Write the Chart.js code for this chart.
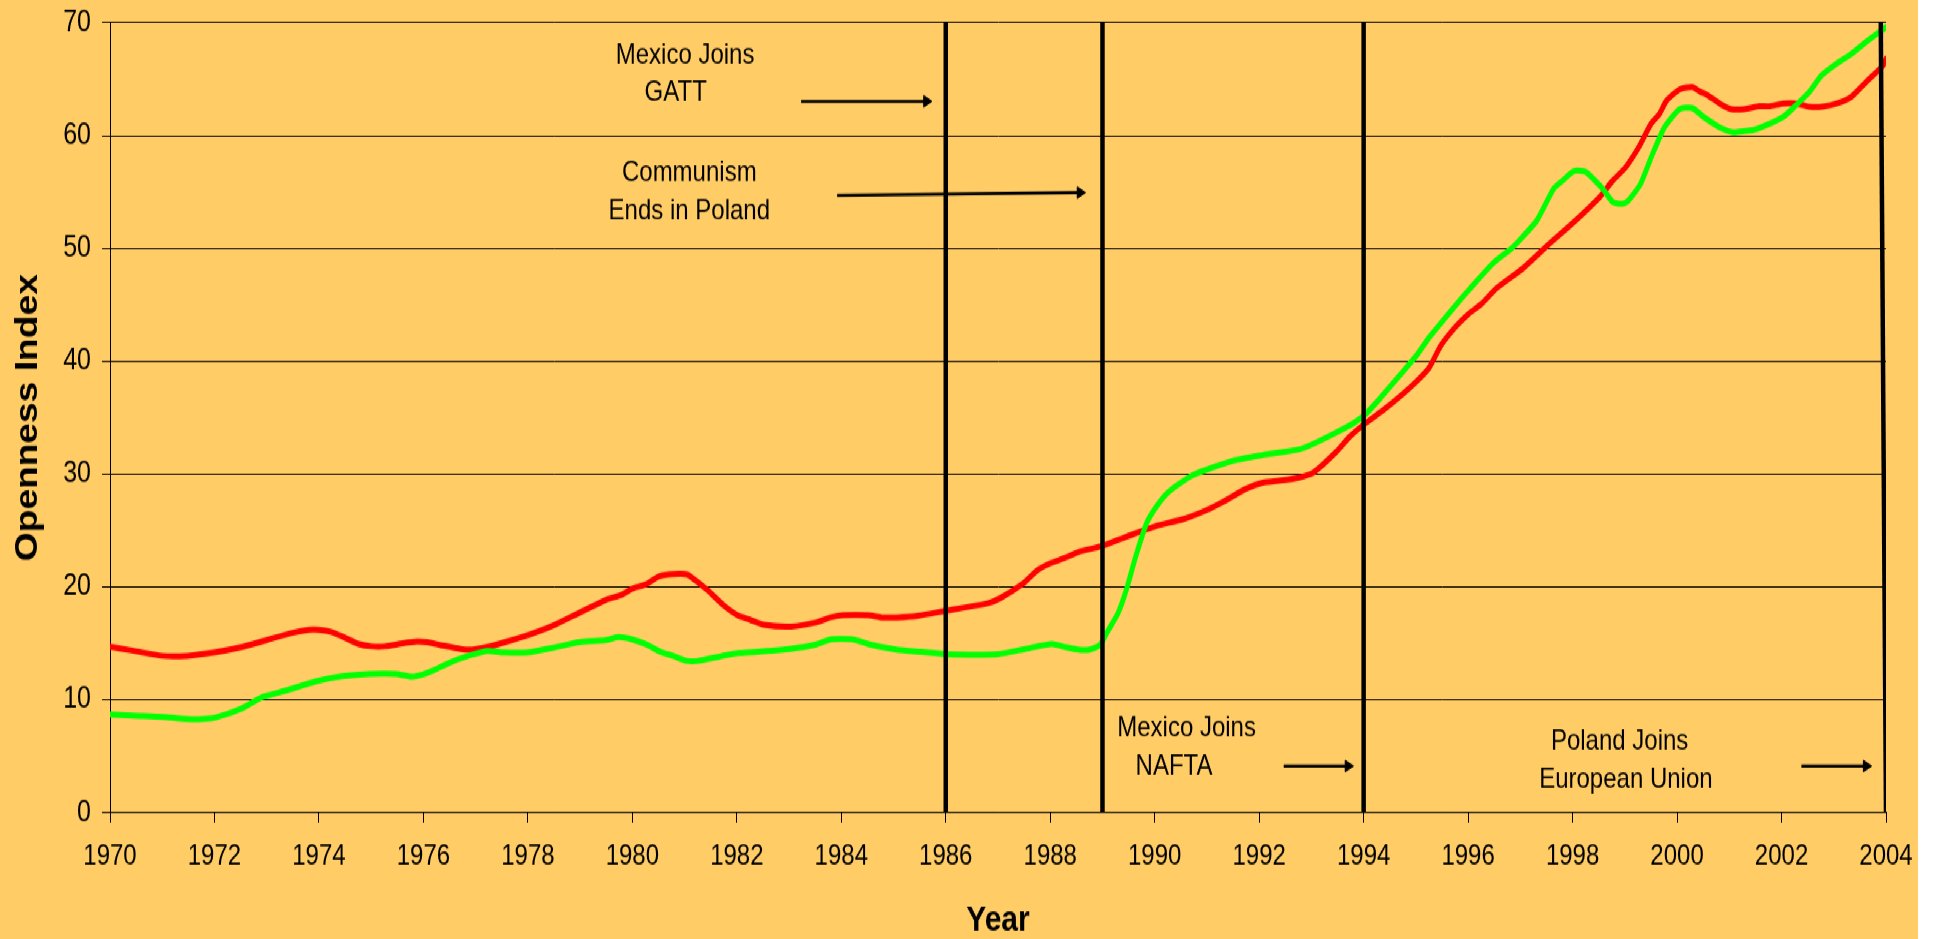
<!DOCTYPE html>
<html>
<head>
<meta charset="utf-8">
<script src="https://cdn.jsdelivr.net/npm/chart.js@4.4.1/dist/chart.umd.min.js"></script>
<style>
  html, body { margin: 0; padding: 0; background: #ffffff; overflow: hidden; }
  /* the reference is a vertically stretched picture: draw at 1918x783, stretch to 939 */
  #wrap { position: absolute; left: 0; top: 0; width: 1918px; height: 783px; background: #FFCC66;
          transform: scaleY(1.19923); transform-origin: 0 0; }
  canvas { display: block; }
</style>
</head>
<body>
<div id="wrap"><canvas id="c" width="1918" height="783"></canvas></div>
<script>
// ---------------- DATA ----------------
const redYears = [1970.0, 1970.45, 1971.0, 1971.47, 1972.0, 1972.5, 1973.0, 1973.5, 1973.8, 1974.0, 1974.25, 1974.5, 1974.76, 1975.0, 1975.27, 1975.6, 1975.87, 1976.08, 1976.33, 1976.72, 1976.93, 1977.19, 1977.44, 1977.95, 1978.47, 1978.98, 1979.49, 1979.79, 1980.0, 1980.27, 1980.51, 1980.8, 1981.05, 1981.43, 1981.74, 1982.01, 1982.25, 1982.52, 1983.04, 1983.51, 1983.79, 1984.03, 1984.51, 1984.78, 1985.06, 1985.47, 1986.01, 1986.8, 1987.04, 1987.48, 1987.76, 1988.03, 1988.27, 1988.54, 1988.97, 1989.46, 1990.03, 1990.54, 1990.99, 1991.31, 1991.75, 1992.07, 1992.46, 1992.77, 1993.03, 1993.48, 1993.73, 1994.03, 1994.37, 1994.75, 1995.01, 1995.25, 1995.48, 1995.76, 1996.01, 1996.26, 1996.54, 1997.04, 1997.53, 1998.03, 1998.52, 1998.77, 1999.02, 1999.27, 1999.5, 1999.66, 1999.8, 2000.05, 2000.29, 2000.44, 2000.58, 2000.83, 2001.04, 2001.29, 2001.57, 2001.78, 2002.03, 2002.28, 2002.53, 2002.77, 2003.06, 2003.34, 2003.62, 2003.94, 2004.0];
const redValues = [14.7, 14.35, 13.9, 13.9, 14.2, 14.65, 15.3, 15.95, 16.2, 16.2, 16.0, 15.5, 14.95, 14.75, 14.75, 15.0, 15.15, 15.1, 14.85, 14.5, 14.45, 14.65, 14.95, 15.65, 16.55, 17.7, 18.85, 19.3, 19.85, 20.25, 20.95, 21.15, 21.1, 19.75, 18.4, 17.5, 17.1, 16.65, 16.5, 16.85, 17.3, 17.5, 17.5, 17.3, 17.3, 17.45, 17.9, 18.55, 19.0, 20.3, 21.5, 22.15, 22.55, 23.1, 23.6, 24.45, 25.4, 26.0, 26.8, 27.55, 28.7, 29.25, 29.45, 29.7, 30.1, 32.0, 33.3, 34.5, 35.65, 37.1, 38.2, 39.4, 41.4, 43.05, 44.2, 45.1, 46.45, 48.2, 50.3, 52.35, 54.55, 56.0, 57.2, 59.0, 61.05, 61.9, 63.1, 64.1, 64.3, 63.9, 63.6, 62.8, 62.35, 62.35, 62.6, 62.6, 62.85, 62.85, 62.55, 62.55, 62.85, 63.45, 64.75, 66.2, 66.8];

const greenYears = [1970.0, 1970.45, 1971.0, 1971.47, 1971.77, 1972.03, 1972.5, 1972.92, 1973.35, 1973.95, 1974.46, 1974.97, 1975.48, 1975.78, 1975.99, 1976.21, 1976.5, 1976.93, 1977.23, 1977.53, 1978.0, 1978.47, 1978.98, 1979.49, 1979.74, 1980.0, 1980.27, 1980.54, 1980.78, 1981.05, 1981.26, 1981.77, 1982.05, 1982.52, 1983.0, 1983.51, 1983.79, 1984.23, 1984.51, 1985.06, 1985.53, 1986.01, 1987.0, 1987.51, 1988.03, 1988.27, 1988.54, 1988.75, 1988.95, 1989.09, 1989.3, 1989.46, 1989.63, 1989.84, 1990.03, 1990.26, 1990.73, 1991.5, 1992.07, 1992.77, 1993.09, 1993.48, 1993.8, 1994.03, 1994.31, 1994.69, 1995.01, 1995.27, 1995.84, 1996.01, 1996.47, 1996.83, 1997.04, 1997.32, 1997.64, 1997.82, 1998.03, 1998.24, 1998.42, 1998.6, 1998.77, 1998.95, 1999.06, 1999.3, 1999.52, 1999.76, 2000.05, 2000.29, 2000.51, 2000.83, 2001.07, 2001.29, 2001.5, 2002.03, 2002.28, 2002.53, 2002.77, 2003.06, 2003.34, 2003.62, 2004.0];
const greenValues = [8.7, 8.6, 8.5, 8.3, 8.3, 8.45, 9.2, 10.25, 10.8, 11.65, 12.1, 12.3, 12.3, 12.05, 12.25, 12.65, 13.3, 14.0, 14.35, 14.2, 14.2, 14.6, 15.1, 15.3, 15.55, 15.35, 14.9, 14.25, 13.9, 13.45, 13.45, 13.95, 14.15, 14.3, 14.5, 14.9, 15.35, 15.35, 14.95, 14.45, 14.25, 14.05, 14.05, 14.5, 14.95, 14.7, 14.45, 14.45, 14.85, 16.0, 17.7, 19.8, 22.6, 25.6, 27.1, 28.4, 29.9, 31.2, 31.7, 32.2, 32.8, 33.7, 34.5, 35.3, 36.7, 38.75, 40.5, 42.2, 45.4, 46.3, 48.65, 50.0, 51.0, 52.5, 55.3, 56.05, 56.85, 56.8, 56.05, 55.15, 54.1, 53.95, 54.2, 55.7, 58.25, 60.75, 62.35, 62.45, 61.65, 60.7, 60.3, 60.4, 60.55, 61.65, 62.7, 63.85, 65.35, 66.4, 67.25, 68.3, 69.6];

const eventYears = [1986, 1989, 1994, 2004];
const eventTopYears = [1986, 1989, 1994, 2003.9];

const xTicks = [1970, 1972, 1974, 1976, 1978, 1980, 1982, 1984, 1986, 1988, 1990, 1992, 1994, 1996, 1998, 2000, 2002, 2004];
const xTickLabels = ['1970', '1972', '1974', '1976', '1978', '1980', '1982', '1984', '1986', '1988', '1990', '1992', '1994', '1996', '1998', '2000', '2002', '2004'];
const yTicks = [0, 10, 20, 30, 40, 50, 60, 70];
const yTickLabels = ['0', '10', '20', '30', '40', '50', '60', '70'];

const noteTexts = ['Mexico Joins', 'GATT', 'Communism', 'Ends in Poland', 'Mexico Joins', 'NAFTA', 'Poland Joins', 'European Union'];

// annotation placement (data units), kept apart from the data
const noteX = [1981.01, 1980.83, 1981.09, 1981.09, 1990.61, 1990.37, 1998.9, 1999.02];
const noteY = [66.38, 63.04, 55.95, 52.59, 6.79, 3.34, 5.62, 2.25];
const arrowFrom = [[1983.23, 63.04], [1983.92, 54.69], [1992.47, 4.14], [2002.38, 4.14]];
const arrowTo = [[1985.63, 63.04], [1988.57, 54.94], [1993.70, 4.14], [2003.62, 4.14]];

// ---------------- STYLE ----------------
const FONT = "'Liberation Sans', Arial, sans-serif";

const datasets = [];
eventYears.forEach((yr, i) => {
  datasets.push({
    data: [{x: yr, y: 0}, {x: eventTopYears[i], y: 70}],
    borderColor: '#000000', borderWidth: 4.5, pointRadius: 0, tension: 0,
    borderCapStyle: 'butt'
  });
});
arrowFrom.forEach((a, i) => {
  datasets.push({
    data: [{x: a[0], y: a[1]}, {x: arrowTo[i][0], y: arrowTo[i][1]}],
    borderColor: '#000000', borderWidth: 2.6, tension: 0,
    pointStyle: 'triangle', pointRotation: 90,
    pointRadius: (c) => c.dataIndex === 1 ? 5.5 : 0,
    pointBackgroundColor: '#000000', pointBorderColor: '#000000', pointBorderWidth: 1
  });
});
datasets.push({
  data: greenYears.map((x, i) => ({x, y: greenValues[i]})),
  borderColor: '#00FF00', borderWidth: 5, pointRadius: 0, tension: 0.2,
  borderJoinStyle: 'round', borderCapStyle: 'round'
});
datasets.push({
  data: redYears.map((x, i) => ({x, y: redValues[i]})),
  borderColor: '#FF0000', borderWidth: 5, pointRadius: 0, tension: 0.2,
  borderJoinStyle: 'round', borderCapStyle: 'round'
});

const notesPlugin = {
  id: 'notes',
  afterDatasetsDraw(chart) {
    const {ctx, scales: {x, y}} = chart;
    ctx.save();
    ctx.fillStyle = '#000000';
    ctx.font = '24px ' + FONT;
    ctx.textAlign = 'center';
    ctx.textBaseline = 'alphabetic';
    noteTexts.forEach((t, i) => {
      ctx.fillText(t, x.getPixelForValue(noteX[i]), y.getPixelForValue(noteY[i]));
    });
    ctx.restore();
  }
};

new Chart(document.getElementById('c'), {
  type: 'line',
  data: { datasets },
  plugins: [notesPlugin],
  options: {
    responsive: false,
    devicePixelRatio: 1,
    animation: false,
    events: [],
    layout: { padding: { left: 0, top: 18.93, right: 32, bottom: 0 } },
    plugins: { legend: { display: false }, tooltip: { enabled: false } },
    scales: {
      x: {
        type: 'linear', position: 'bottom', min: 1970, max: 2004,
        afterBuildTicks: (s) => { s.ticks = xTicks.map(v => ({value: v})); },
        afterFit: (s) => { s.height = 105.31; s.paddingLeft = 0; s.paddingRight = 0; },
        ticks: {
          callback: (v) => { const k = xTicks.indexOf(v); return k >= 0 ? xTickLabels[k] : ''; },
          font: { family: FONT, size: 24 }, color: '#000000', padding: 13.5,
          maxRotation: 0, autoSkip: false
        },
        grid: { drawOnChartArea: false, drawTicks: true, tickLength: 8.3, color: '#000000', lineWidth: 1 },
        border: { display: true, color: '#000000', width: 1 },
        title: {
          display: true, text: 'Year', color: '#000000',
          font: { family: FONT, size: 30, weight: 'bold', lineHeight: 1 },
          padding: { top: 0, bottom: 0 }
        }
      },
      y: {
        type: 'linear', position: 'left', min: 0, max: 70,
        afterBuildTicks: (s) => { s.ticks = yTicks.map(v => ({value: v})); },
        afterFit: (s) => { s.width = 110; s.paddingTop = 0; s.paddingBottom = 0; },
        ticks: {
          callback: (v) => { const k = yTicks.indexOf(v); return k >= 0 ? yTickLabels[k] : ''; },
          font: { family: FONT, size: 25 }, color: '#000000', padding: 11
        },
        grid: { drawOnChartArea: true, drawTicks: true, tickLength: 8, color: '#000000', lineWidth: 1 },
        border: { display: true, color: '#000000', width: 1 },
        title: {
          display: true, text: 'Openness Index', color: '#000000',
          font: { family: FONT, size: 31, weight: 'bold', lineHeight: 1 },
          padding: { top: 12.5, bottom: 0 }
        }
      }
    }
  }
});
</script>
</body>
</html>
